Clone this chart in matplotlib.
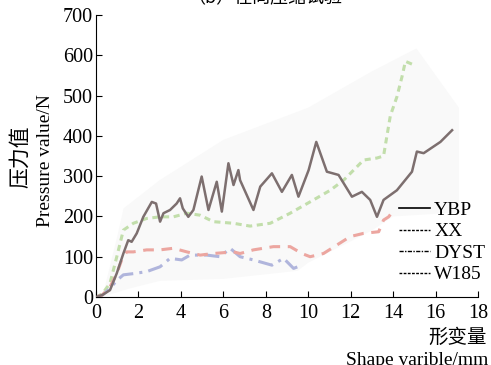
import matplotlib
matplotlib.use("Agg")
import matplotlib.pyplot as plt
from matplotlib.lines import Line2D

plt.rcParams["font.family"] = ["Liberation Serif", "Noto Sans CJK SC"]

# YBP (solid grey line)
ybp_x = [0, 0.3, 0.66, 0.98, 1.29, 1.52, 1.68, 1.92, 2.23, 2.63, 2.83, 3.02, 3.18, 3.49, 3.80,
         3.96, 4.09, 4.35, 4.59, 4.98, 5.30, 5.69, 5.93, 6.24, 6.48, 6.71, 6.79, 7.42, 7.74,
         8.29, 8.76, 9.23, 9.54, 10.02, 10.38, 10.88, 11.43, 12.06, 12.53, 12.92, 13.24,
         13.55, 14.18, 14.89, 15.12, 15.44, 16.23, 16.78]
ybp_y = [0, 5, 17, 59, 108, 141, 137, 158, 199, 236, 232, 187, 208, 216, 232,
         245, 220, 199, 216, 299, 216, 286, 212, 332, 278, 315, 290, 216, 274,
         307, 261, 303, 249, 315, 385, 311, 303, 249, 261, 241, 199,
         241, 265, 311, 361, 357, 385, 414]

# XX (red dashed)
xx_x = [0, 0.3, 0.66, 0.98, 1.21, 1.45, 1.76, 2.39, 3.02, 3.65, 4.28, 4.91, 5.53, 6.48, 6.79,
        7.42, 8.36, 9.15, 9.70, 10.09, 10.72, 11.35, 11.98, 12.61, 13.32, 13.55, 13.79, 14.03]
xx_y = [0, 5, 25, 58, 92, 112, 112, 117, 117, 121, 112, 104, 108, 112, 108,
        117, 125, 125, 108, 100, 108, 129, 150, 158, 162, 191, 199, 216]

# DYST (green)
dyst_x = [0, 0.3, 0.66, 0.98, 1.29, 1.76, 2.39, 3.02, 3.65, 4.28, 4.91, 5.53, 6.48, 7.26,
          8.21, 9.15, 10.25, 11.04, 11.67, 12.14, 12.61, 13.24, 13.55, 13.71, 13.87,
          14.18, 14.42, 14.58, 14.89]
dyst_y = [0, 8, 34, 100, 166, 183, 195, 199, 199, 208, 203, 187, 183, 176,
          183, 208, 241, 265, 290, 315, 340, 345, 350, 400, 450,
          497, 547, 585, 578]

# W185 (blue)
w185_x = [0, 0.3, 0.66, 0.98, 1.29, 1.76, 2.39, 3.02, 3.49, 4.04, 4.43, 5.22, 5.85, 6.32,
          6.79, 7.42, 8.29, 8.84, 9.31, 9.70]
w185_y = [0, 5, 21, 41, 55, 58, 63, 75, 96, 92, 104, 104, 100, 121,
          100, 92, 79, 96, 71, 79]

# faint grey background patch of the scan
shade_x = [0.3, 1.0, 1.3, 3, 6, 10, 13, 15.1, 17.1, 17.1, 14, 13, 10, 9.5, 6, 3, 1.5]
shade_y = [0, 150, 220, 290, 390, 470, 560, 617, 470, 210, 200, 165, 85, 65, 45, 40, 20]

fig = plt.figure(figsize=(4.91, 3.65), dpi=100)
ax = fig.add_axes([0.1955, 0.1863, 0.778, 0.7726])

ax.fill(shade_x, shade_y, color="#f9f9f9", lw=0, zorder=0)
ax.plot(dyst_x, dyst_y, color="#c2deab", lw=2.2, ls=(0, (2, 1.5)), zorder=2)
ax.plot(w185_x, w185_y, color="#b0b5dc", lw=2.2, ls=(0, (5, 2, 1, 2)), zorder=2)
ax.plot(xx_x, xx_y, color="#eca6a0", lw=2.2, ls=(0, (3.5, 2.5)), zorder=2)
ax.plot(ybp_x, ybp_y, color="#7d6f6f", lw=1.8, zorder=3)

ax.set_xlim(0, 18)
ax.set_ylim(0, 700)
ax.set_xticks(range(0, 19, 2))
ax.set_yticks(range(0, 701, 100))
ax.spines["top"].set_visible(False)
ax.spines["right"].set_visible(False)
ax.tick_params(direction="in", labelsize=14.5, length=4)
ax.tick_params(axis="x", pad=5)
ax.tick_params(axis="y", pad=2)
ax.set_facecolor("white")

handles = [Line2D([], [], color="black", lw=1.2),
           Line2D([], [], color="black", lw=1, ls=(0, (2, 1))),
           Line2D([], [], color="black", lw=1, ls=(0, (3, 1, 1, 1))),
           Line2D([], [], color="black", lw=1, ls=(0, (2, 1)))]
fig.legend(handles, ["YBP", "XX", "DYST", "W185"], loc="upper right",
           bbox_to_anchor=(1.004, 0.47), frameon=False, fontsize=14,
           handlelength=1.6, handletextpad=0.2, labelspacing=0.2, borderaxespad=0)

fig.text(0.04, 0.572, "压力值", rotation=90, ha="center", va="center", fontsize=15,
         family=["Noto Sans CJK SC"])
fig.text(0.092, 0.56, "Pressure value/N", rotation=90, ha="center", va="center", fontsize=14)
fig.text(0.992, 0.077, "形变量", ha="right", va="center", fontsize=14,
         family=["Noto Sans CJK SC"])
fig.text(0.994, 0.012, "Shape varible/mm", ha="right", va="center", fontsize=14)
fig.text(0.54, 1.005, "（b）径向压缩试验", ha="center", va="center", fontsize=13,
         family=["Noto Sans CJK SC"])

fig.savefig("out.png", dpi=100)
